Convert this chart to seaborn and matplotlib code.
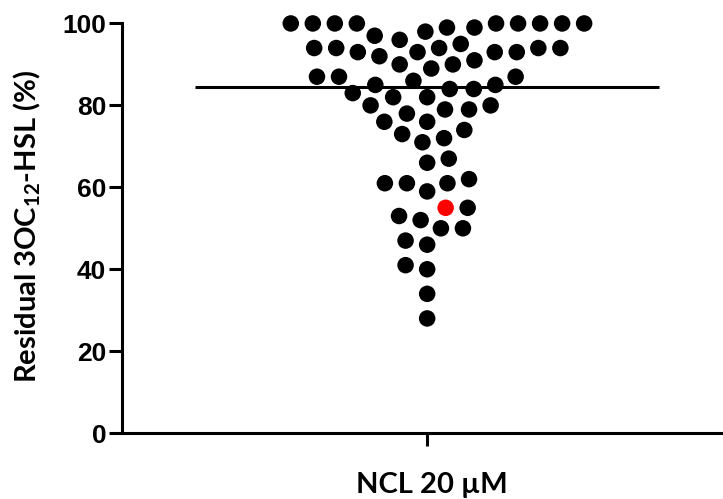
import matplotlib
matplotlib.use("Agg")
import matplotlib.pyplot as plt
import seaborn as sns
import numpy as np
import pandas as pd

# ---- data ----
category = "NCL 20 \u00b5M"
values = [97, 100, 100, 100, 100, 99, 99, 100, 100, 100, 100, 100, 96, 98,
          95, 91, 94, 90, 94, 93, 93, 92, 93, 93, 94, 89, 94, 90, 94,
          84, 87, 82, 87, 85, 85, 86, 87, 82, 83, 84,
          80, 79, 78, 79, 80, 76, 76, 74, 72, 71, 73,
          67, 66, 61, 61, 62, 59, 61, 55, 55, 53, 52, 50, 50, 47, 46,
          41, 40, 34, 28]
highlight_index = 59          # the single red point (value 55)
yticks = [0, 20, 40, 60, 80, 100]
ylabel = r"Residual 3OC$_{\mathrm{12}}$-HSL (%)"

flags = ["red" if i == highlight_index else "black" for i in range(len(values))]
df = pd.DataFrame({"group": [category] * len(values), "value": values, "flag": flags})

sns.set_theme(style="white")
plt.rcParams["font.family"] = ["Liberation Sans", "DejaVu Sans"]
plt.rcParams["mathtext.fontset"] = "custom"
plt.rcParams["mathtext.rm"] = "Lato:bold"
plt.rcParams["mathtext.it"] = "Lato:bold"
plt.rcParams["mathtext.bf"] = "Lato:bold"
plt.rcParams["text.color"] = "black"
plt.rcParams["axes.labelcolor"] = "black"
plt.rcParams["xtick.color"] = "black"
plt.rcParams["ytick.color"] = "black"

fig = plt.figure(figsize=(7.23, 4.99), dpi=100)
ax = fig.add_axes([0.169, 0.132, 0.831, 0.821])

sns.swarmplot(data=df, x="group", y="value", hue="flag",
              palette={"black": "black", "red": "#ff0000"},
              size=13.5, linewidth=1.6, edgecolor="white", legend=False, ax=ax)

sns.boxplot(data=df, x="group", y="value", width=0.76, ax=ax,
            showbox=False, showcaps=False, showfliers=False,
            whiskerprops={"visible": False},
            medianprops={"color": "black", "linewidth": 2.2, "zorder": 5})

for coll in ax.collections:
    coll.set_clip_on(False)

ax.set_ylim(0, 100)
ax.set_xlim(-0.5, 0.485)
ax.set_yticks(yticks)
ax.set_yticklabels([str(t) for t in yticks], fontsize=19, fontweight="bold", color="black")
ax.set_xticks([0])
ax.set_xticklabels([""])
ax.set_xlabel(category, fontsize=21, fontweight="bold", family=["Lato", "DejaVu Sans"], color="black")
ax.set_ylabel(ylabel, fontsize=21, fontweight="bold", family=["Lato", "DejaVu Sans"], color="black")
ax.xaxis.set_label_coords(0.515, -0.095)
ax.yaxis.set_label_coords(-0.132, 0.505)

for s in ["top", "right"]:
    ax.spines[s].set_visible(False)
for s in ["left", "bottom"]:
    ax.spines[s].set_linewidth(2.2)
    ax.spines[s].set_color("black")

ax.tick_params(axis="y", direction="out", length=9.5, width=2.2, color="black",
               labelcolor="black", left=True, pad=2)
ax.tick_params(axis="x", direction="out", length=9, width=2.2, color="black", bottom=True)

fig.savefig("out.png", dpi=100)
